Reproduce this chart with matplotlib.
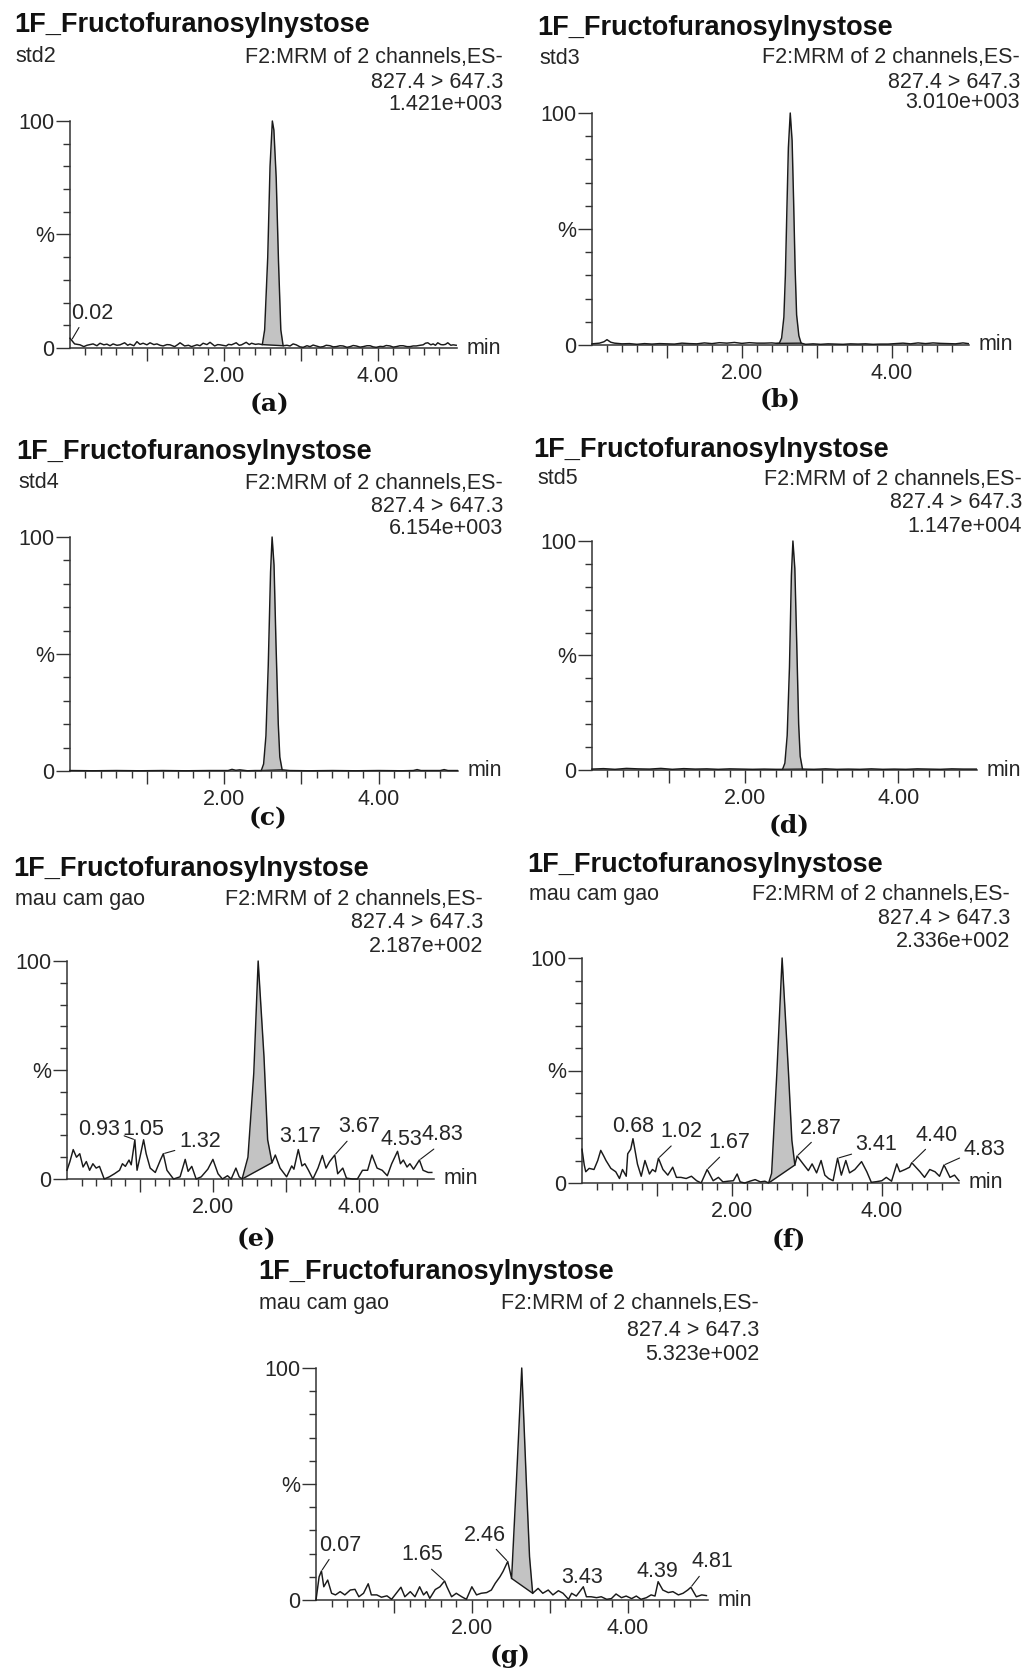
import numpy as np
import matplotlib
matplotlib.use("Agg")
import matplotlib.pyplot as plt
from matplotlib.ticker import FixedLocator, MultipleLocator

# MRM chromatograms of 1F-fructofuranosylnystose, standards and samples

W, H = 1024, 1673
plt.rcParams['font.family'] = ['Liberation Sans', 'DejaVu Sans']

compound = "1F_Fructofuranosylnystose"
channel = "F2:MRM of 2 channels,ES-"
transition = "827.4 > 647.3"
samples = ["std2", "std3", "std4", "std5", "mau cam gao", "mau cam gao", "mau cam gao"]
base_peak = ["1.421e+003", "3.010e+003", "6.154e+003", "1.147e+004",
             "2.187e+002", "2.336e+002", "5.323e+002"]
captions = ["(a)", "(b)", "(c)", "(d)", "(e)", "(f)", "(g)"]

# retention time (min) / relative intensity (%)
rt_a = [0.00, 0.06, 0.13, 0.18, 0.22, 0.30, 0.35, 0.39, 0.44, 0.48, 0.52, 0.56, 0.61, 0.65, 0.71,
        0.75, 0.78, 0.83, 0.87, 0.91, 0.95, 1.00, 1.04, 1.09, 1.13, 1.17, 1.21, 1.26, 1.30, 1.36,
        1.40, 1.43, 1.49, 1.54, 1.58, 1.65, 1.69, 1.73, 1.78, 1.82, 1.88, 1.92, 1.95, 2.03, 2.06,
        2.10, 2.16, 2.20, 2.23, 2.29, 2.33, 2.36, 2.41, 2.45, 2.50, 2.53, 2.57, 2.60, 2.63, 2.65,
        2.68, 2.71, 2.74, 2.77, 2.82, 2.86, 2.90, 2.94, 2.99, 3.03, 3.08, 3.12, 3.16, 3.20, 3.25,
        3.29, 3.33, 3.38, 3.42, 3.46, 3.51, 3.55, 3.60, 3.64, 3.68, 3.72, 3.77, 3.81, 3.86, 3.90,
        3.94, 3.98, 4.03, 4.07, 4.11, 4.16, 4.20, 4.24, 4.29, 4.33, 4.38, 4.42, 4.46, 4.50, 4.55,
        4.59, 4.62, 4.65, 4.69, 4.72, 4.75, 4.78, 4.82, 4.85, 4.88, 4.91, 4.95, 4.98, 5.02]
pct_a = [4.3, 1.8, 1.4, 0.6, 1.2, 1.8, 1.0, 2.1, 1.4, 1.7, 1.0, 1.8, 1.2, 1.4, 2.3,
         1.2, 1.7, 1.0, 2.8, 1.6, 2.1, 1.4, 2.3, 1.5, 1.8, 1.2, 0.9, 1.5, 1.4, 0.6,
         1.5, 2.3, 0.9, 1.2, 0.6, 1.4, 1.0, 2.1, 1.5, 2.5, 0.9, 1.5, 1.4, 0.9, 1.6,
         1.4, 2.3, 1.2, 1.4, 2.5, 1.5, 2.1, 1.6, 1.8, 1.5, 8.0, 40.0, 80.0, 100.0, 96.0,
         75.0, 38.0, 8.0, 1.0, 1.2, 0.9, 1.8, 1.4, 0.5, 0.3, 1.0, 0.6, 1.3, 0.9, 0.4,
         0.6, 1.2, 1.0, 0.5, 0.6, 1.0, 0.9, 0.3, 0.6, 1.1, 0.9, 0.4, 0.6, 1.0, 1.0,
         0.5, 0.3, 0.7, 0.6, 1.1, 0.9, 0.4, 0.6, 1.0, 1.0, 0.6, 0.6, 0.9, 0.9, 1.2,
         1.4, 2.1, 2.3, 1.4, 1.8, 1.2, 2.3, 1.5, 1.4, 1.6, 2.3, 1.2, 1.4, 1.2]

rt_b = [0.00, 0.10, 0.16, 0.20, 0.25, 0.30, 0.40, 0.50, 0.60, 0.70, 0.80, 0.90, 1.00, 1.10,
        1.20, 1.30, 1.40, 1.50, 1.60, 1.70, 1.80, 1.90, 2.00, 2.10, 2.20, 2.30, 2.40, 2.47,
        2.50, 2.53, 2.56, 2.58, 2.60, 2.62, 2.645, 2.67, 2.69, 2.71, 2.73, 2.76, 2.79,
        2.85, 2.95, 3.05, 3.15, 3.25, 3.35, 3.45, 3.55, 3.65, 3.75, 3.85, 3.95, 4.05, 4.15,
        4.25, 4.35, 4.45, 4.55, 4.65, 4.75, 4.85, 4.95, 5.02]
pct_b = [0.5, 0.8, 1.4, 2.3, 1.2, 0.8, 0.5, 0.6, 0.3, 0.6, 0.4, 0.6, 0.5, 0.4,
         0.8, 0.6, 0.5, 0.9, 0.6, 1.0, 0.8, 1.1, 0.7, 1.0, 0.8, 0.8, 0.9, 0.7,
         0.8, 3.0, 12.0, 30.0, 58.0, 85.0, 100.0, 88.0, 62.0, 33.0, 13.0, 4.0, 0.8,
         0.3, 0.5, 0.3, 0.5, 0.4, 0.3, 0.5, 0.4, 0.5, 0.3, 0.4, 0.4, 0.6, 0.8,
         0.5, 0.9, 0.6, 0.9, 0.7, 0.6, 0.5, 0.9, 0.6]

rt_c = [0.00, 0.30, 0.60, 0.90, 1.20, 1.50, 1.80, 2.05, 2.10, 2.15, 2.20, 2.30, 2.40, 2.48,
        2.51, 2.54, 2.57, 2.60, 2.62, 2.645, 2.67, 2.70, 2.72, 2.75, 2.85, 3.10, 3.40, 3.70,
        4.00, 4.30, 4.45, 4.50, 4.55, 4.80, 4.85, 4.90, 5.02]
pct_c = [0.2, 0.1, 0.2, 0.1, 0.2, 0.1, 0.2, 0.2, 0.7, 0.3, 0.5, 0.1, 0.2, 0.2,
         3.0, 15.0, 45.0, 85.0, 100.0, 88.0, 55.0, 20.0, 6.0, 0.5, 0.2, 0.1, 0.2, 0.1,
         0.2, 0.1, 0.2, 0.6, 0.2, 0.2, 0.6, 0.2, 0.2]

rt_d = [0.00, 0.15, 0.30, 0.45, 0.60, 0.75, 0.90, 1.05, 1.20, 1.35, 1.50, 1.65, 1.80, 1.95,
        2.10, 2.25, 2.40, 2.49, 2.52, 2.55, 2.58, 2.605, 2.625, 2.65, 2.675, 2.70, 2.72, 2.75,
        2.90, 3.05, 3.20, 3.35, 3.50, 3.65, 3.80, 3.95, 4.10, 4.25, 4.40, 4.55, 4.70, 4.85, 5.02]
pct_d = [0.4, 0.6, 0.3, 0.7, 0.5, 0.4, 0.7, 0.3, 0.6, 0.4, 0.5, 0.3, 0.5, 0.4,
         0.3, 0.4, 0.3, 0.3, 3.0, 15.0, 45.0, 85.0, 100.0, 88.0, 55.0, 20.0, 6.0, 0.4,
         0.3, 0.5, 0.3, 0.4, 0.3, 0.5, 0.3, 0.4, 0.3, 0.5, 0.4, 0.3, 0.5, 0.4, 0.4]

rt_e = [0.00, 0.04, 0.085, 0.13, 0.175, 0.22, 0.265, 0.31, 0.355, 0.40, 0.445, 0.51, 0.58, 0.65,
        0.72, 0.76, 0.80, 0.85, 0.88, 0.93, 0.96, 1.00, 1.05, 1.085, 1.14, 1.21, 1.28, 1.32,
        1.37, 1.46, 1.55, 1.62, 1.66, 1.71, 1.77, 1.84, 1.93, 2.00, 2.07, 2.13, 2.20, 2.25,
        2.315, 2.36, 2.40, 2.48, 2.56, 2.62, 2.70, 2.75, 2.81, 2.855, 2.92, 3.01, 3.08, 3.11,
        3.17, 3.22, 3.26, 3.31, 3.37, 3.44, 3.50, 3.55, 3.60, 3.67, 3.71, 3.78, 3.83, 3.91,
        3.98, 4.05, 4.12, 4.18, 4.25, 4.32, 4.39, 4.45, 4.53, 4.57, 4.61, 4.66, 4.70, 4.75,
        4.83, 4.88, 4.95, 5.00]
pct_e = [4.0, 8.0, 13.5, 10.0, 11.6, 5.5, 8.0, 4.0, 7.0, 5.0, 5.8, 0.0, 1.0, 2.4,
         4.0, 7.0, 5.8, 8.7, 6.5, 18.0, 4.0, 10.0, 18.0, 11.6, 5.0, 3.0, 8.7, 11.6,
         4.0, 0.0, 1.0, 9.0, 3.5, 5.8, 0.0, 1.0, 4.5, 9.0, 2.4, 0.0, 1.5, 0.0,
         5.0, 1.0, 0.0, 10.0, 48.6, 100.0, 56.0, 18.0, 7.5, 11.0, 5.0, 1.0, 6.0, 4.5,
         13.5, 6.0, 7.0, 4.0, 0.0, 5.0, 10.8, 5.0, 8.0, 11.0, 2.4, 5.0, 0.4, 0.0,
         0.0, 4.0, 4.0, 11.0, 5.0, 4.0, 1.5, 7.0, 12.7, 7.0, 8.7, 5.5, 7.0, 4.5,
         8.7, 4.0, 3.0, 3.0]

rt_f = [0.00, 0.03, 0.05, 0.095, 0.16, 0.21, 0.25, 0.29, 0.32, 0.385, 0.45, 0.50, 0.54, 0.59,
        0.61, 0.65, 0.68, 0.74, 0.79, 0.84, 0.90, 0.94, 0.98, 1.02, 1.08, 1.145, 1.21, 1.26,
        1.32, 1.39, 1.46, 1.53, 1.59, 1.63, 1.67, 1.75, 1.82, 1.88, 1.95, 2.02, 2.07, 2.11,
        2.17, 2.24, 2.31, 2.38, 2.44, 2.49, 2.53, 2.60, 2.67, 2.755, 2.80, 2.84, 2.87, 2.95,
        3.02, 3.07, 3.13, 3.19, 3.24, 3.29, 3.35, 3.41, 3.46, 3.52, 3.57, 3.64, 3.73, 3.80,
        3.86, 3.93, 4.00, 4.06, 4.13, 4.20, 4.24, 4.31, 4.37, 4.40, 4.51, 4.57, 4.64, 4.71,
        4.77, 4.83, 4.91, 4.97, 5.03]
pct_f = [15.0, 8.0, 5.0, 6.5, 6.0, 10.0, 14.5, 12.0, 10.0, 6.5, 5.0, 2.0, 6.0, 3.0,
         13.0, 15.0, 19.7, 8.4, 3.0, 10.0, 4.0, 6.0, 5.0, 11.0, 6.0, 3.5, 7.0, 2.5,
         2.5, 2.0, 3.0, 1.0, 0.0, 3.0, 6.0, 1.0, 2.5, 0.5, 0.8, 1.0, 4.0, 0.5,
         0.0, 0.8, 1.5, 0.5, 0.8, 0.0, 4.3, 49.0, 100.0, 49.0, 19.0, 8.0, 12.0, 8.5,
         5.5, 8.5, 4.5, 10.0, 3.5, 2.0, 1.0, 11.0, 3.5, 10.0, 4.5, 6.0, 9.5, 5.0,
         0.3, 0.6, 1.0, 2.5, 0.8, 8.5, 5.0, 6.0, 7.0, 9.0, 5.0, 2.5, 6.0, 5.0,
         3.0, 8.0, 2.5, 3.5, 1.0]

rt_g = [0.00, 0.04, 0.07, 0.10, 0.15, 0.20, 0.25, 0.31, 0.37, 0.44, 0.50, 0.55, 0.61, 0.67,
        0.71, 0.78, 0.84, 0.91, 0.97, 1.03, 1.09, 1.14, 1.21, 1.27, 1.33, 1.38, 1.42, 1.46,
        1.53, 1.59, 1.65, 1.68, 1.74, 1.80, 1.87, 1.93, 2.00, 2.06, 2.12, 2.19, 2.25, 2.30,
        2.36, 2.40, 2.46, 2.51, 2.57, 2.64, 2.70, 2.74, 2.78, 2.85, 2.91, 2.98, 3.04, 3.11,
        3.17, 3.24, 3.28, 3.34, 3.43, 3.47, 3.53, 3.60, 3.66, 3.73, 3.79, 3.85, 3.92, 3.98,
        4.05, 4.11, 4.17, 4.24, 4.30, 4.35, 4.39, 4.45, 4.52, 4.58, 4.65, 4.71, 4.77, 4.81,
        4.88, 4.95, 5.01]
pct_g = [0.0, 10.0, 12.5, 5.7, 8.6, 2.9, 2.2, 3.6, 2.2, 4.3, 4.6, 1.4, 2.9, 7.0,
         2.2, 2.2, 1.2, 1.8, 0.3, 2.9, 5.5, 1.4, 3.6, 1.4, 5.7, 2.2, 3.6, 0.7,
         4.5, 5.7, 8.2, 5.7, 1.4, 2.9, 1.4, 0.3, 5.7, 2.2, 2.9, 3.2, 4.3, 7.2,
         10.0, 12.3, 16.6, 9.3, 50.0, 100.0, 50.0, 18.7, 2.9, 5.0, 2.9, 4.3, 2.2, 4.0,
         2.9, 0.3, 2.9, 1.7, 5.7, 1.4, 1.4, 1.0, 1.4, 0.3, 0.6, 2.6, 1.0, 1.7,
         0.6, 1.7, 0.3, 1.0, 2.2, 1.7, 7.9, 4.3, 3.2, 3.6, 2.2, 2.9, 4.3, 5.5,
         1.4, 2.2, 1.9]

# integrated peak window (start, end) in min
peak_a, peak_b, peak_c, peak_d = (2.50, 2.77), (2.47, 2.79), (2.48, 2.75), (2.49, 2.75)
peak_e, peak_f, peak_g = (2.40, 2.81), (2.49, 2.84), (2.51, 2.78)

# labelled retention times
labels_a = [0.02]
labels_e = [0.93, 1.05, 1.32, 3.17, 3.67, 4.53, 4.83]
labels_f = [0.68, 1.02, 1.67, 2.87, 3.41, 4.40, 4.83]
labels_g = [0.07, 1.65, 2.46, 3.43, 4.39, 4.81]

# where each label text sits (min, %) and where its leader leaves the text
textpos_a = [(0.29, 15.4)]
leader_a = [(0.24, 0.0)]
textpos_e = [(0.44, 22.9), (1.05, 22.9), (1.82, 17.0), (3.19, 19.3), (4.00, 23.9), (4.58, 17.9), (5.15, 20.2)]
leader_e = [(1.0, 0.25), None, (0.0, 0.15), None, (0.3, 0.0), None, (0.4, 0.0)]
textpos_f = [(0.68, 24.9), (1.32, 22.8), (1.97, 17.8), (3.19, 24.4), (3.93, 16.9), (4.73, 21.3), (5.37, 14.7)]
leader_f = [None, (0.36, 0.0), (0.35, 0.0), (0.36, 0.0), (0.05, 0.15), (0.33, 0.0), (0.0, 0.2)]
textpos_g = [(0.31, 23.7), (1.36, 19.4), (2.17, 28.0), (3.42, 9.9), (4.38, 12.1), (5.08, 16.4)]
leader_g = [(0.3, 0.0), (0.63, 0.0), (0.68, 0.0), None, None, (0.27, 0.0)]

traces = [(rt_a, pct_a, peak_a, labels_a, textpos_a, leader_a),
          (rt_b, pct_b, peak_b, [], [], []),
          (rt_c, pct_c, peak_c, [], [], []),
          (rt_d, pct_d, peak_d, [], [], []),
          (rt_e, pct_e, peak_e, labels_e, textpos_e, leader_e),
          (rt_f, pct_f, peak_f, labels_f, textpos_f, leader_f),
          (rt_g, pct_g, peak_g, labels_g, textpos_g, leader_g)]

# page layout in pixels: axes box (left, top, right, bottom), header anchors, caption
axes_px = [(70, 121, 457, 348), (592, 113, 969, 345), (70, 537, 458, 771), (592, 541, 977, 770),
           (67, 961, 434, 1179), (582, 958, 959, 1183), (316, 1368, 708, 1600)]
title_px = [(14, 25), (537, 28), (16, 452), (533, 450), (13, 869), (527, 865), (258, 1272)]
sample_px = [(15, 57), (539, 58), (18, 483), (537, 479), (15, 900), (529, 895), (259, 1303)]
info_px = [(503, 57, 82, 104), (1020, 58, 83, 103), (503, 483, 507, 528), (1022, 479, 503, 527),
           (483, 900, 923, 946), (1010, 895, 919, 942), (759, 1303, 1330, 1355)]
caption_px = [(270, 404), (780, 399), (268, 818), (789, 825), (256, 1239), (789, 1239), (510, 1656)]

TXT = '#262626'
LINE = '#1a1a1a'
FS = 15.5


def fx(x):
    return x / W


def fy(y):
    return 1 - y / H


fig = plt.figure(figsize=(W / 100, H / 100), dpi=100)

for i, (rt, pct, pk, labs, tpos, lead) in enumerate(traces):
    l, t, r, b = axes_px[i]
    ax = fig.add_axes([fx(l), fy(b), (r - l) / W, (b - t) / H])
    rt = np.array(rt)
    pct = np.array(pct)

    # integrated peak: shaded between trace and the drawn baseline
    s0, s1 = pk
    inside = (rt >= s0 - 1e-9) & (rt <= s1 + 1e-9)
    seg_t = rt[inside]
    seg_y = pct[inside]
    base = np.interp(seg_t, [s0, s1], [np.interp(s0, rt, pct), np.interp(s1, rt, pct)])
    ax.fill_between(seg_t, base, seg_y, color='#c3c3c3', lw=0, zorder=1)
    ax.plot([s0, s1], [base[0], base[-1]], color=LINE, lw=1.0, zorder=2)
    ax.plot(rt, pct, color=LINE, lw=1.05, zorder=3, clip_on=False)

    for lt, (tx, ty), rp in zip(labs, tpos, lead):
        arrow = None
        if rp is not None:
            arrow = dict(arrowstyle='-', color=LINE, lw=0.8, relpos=rp, shrinkA=1, shrinkB=1)
        ax.annotate(f"{lt:.2f}", xy=(lt, np.interp(lt, rt, pct)), xytext=(tx, ty),
                    textcoords='data', ha='center', va='center', fontsize=15.5, color=TXT,
                    annotation_clip=False, arrowprops=arrow)

    ax.set_xlim(0, 5.03)
    ax.set_ylim(0, 100)
    for side in ('top', 'right'):
        ax.spines[side].set_visible(False)
    for side in ('left', 'bottom'):
        ax.spines[side].set_color('#333333')
        ax.spines[side].set_linewidth(1.1)

    ax.yaxis.set_major_locator(FixedLocator([0, 50, 100]))
    ax.set_yticklabels(['0', '%', '100'])
    ax.yaxis.set_minor_locator(MultipleLocator(10))
    ax.xaxis.set_major_locator(FixedLocator([1, 2, 3, 4]))
    ax.set_xticklabels(['', '2.00', '', '4.00'])
    ax.xaxis.set_minor_locator(FixedLocator(np.arange(0.2, 5.0, 0.2)))
    ax.tick_params(which='both', direction='out', color='#333333', width=1.0,
                   labelsize=FS, labelcolor=TXT)
    ax.tick_params(axis='y', which='major', length=10, pad=1)
    ax.tick_params(axis='y', which='minor', length=5)
    ax.tick_params(axis='x', which='major', length=9, pad=4)
    ax.tick_params(axis='x', which='minor', length=5)

    ax.annotate('min', xy=(1, 0), xycoords='axes fraction', xytext=(10, 0),
                textcoords='offset pixels', ha='left', va='center', fontsize=FS, color=TXT)

    # header block
    fig.text(fx(title_px[i][0]), fy(title_px[i][1]), compound, ha='left', va='center',
             fontsize=19.5, fontweight='bold', color='#111111')
    fig.text(fx(sample_px[i][0]), fy(sample_px[i][1]), samples[i], ha='left', va='center',
             fontsize=FS, color=TXT)
    rx, y1, y2, y3 = info_px[i]
    for yy, s in zip((y1, y2, y3), (channel, transition, base_peak[i])):
        fig.text(fx(rx), fy(yy), s, ha='right', va='center', fontsize=FS, color=TXT)

    fig.text(fx(caption_px[i][0]), fy(caption_px[i][1]), captions[i], ha='center', va='center',
             fontsize=18, fontweight='bold', family=['DejaVu Serif', 'Liberation Serif'],
             color='#111111')

fig.savefig('out.png', dpi=100)
